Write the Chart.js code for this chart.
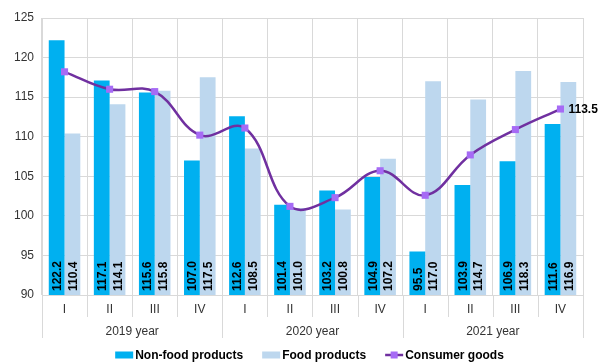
<!DOCTYPE html>
<html>
<head>
<meta charset="utf-8">
<script src="https://cdn.jsdelivr.net/npm/chart.js@4.4.0/dist/chart.umd.min.js"></script>
<style>
  html, body { margin: 0; padding: 0; background: #fff; }
  #wrap { width: 598px; height: 363px; }
</style>
</head>
<body>
<div id="wrap"><canvas id="c"></canvas></div>
<script>
const quarters = ['I', 'II', 'III', 'IV', 'I', 'II', 'III', 'IV', 'I', 'II', 'III', 'IV']
const years = ['2019 year', '2020 year', '2021 year']
const nonFood = [122.2, 117.1, 115.6, 107.0, 112.6, 101.4, 103.2, 104.9, 95.5, 103.9, 106.9, 111.6]
const food = [110.4, 114.1, 115.8, 117.5, 108.5, 101.0, 100.8, 107.2, 117.0, 114.7, 118.3, 116.9]
const consumer = [118.2, 116.0, 115.7, 110.2, 111.1, 101.2, 102.3, 105.7, 102.6, 107.7, 110.9, 113.5]

const GRID = '#d9d9d9'
const TXT = '#333'
const FONT = '"Liberation Sans", Arial, sans-serif'
const LINE = '#7030A0'
const MARK = '#A66BF5'

// numbers inside the bars, rotated, plus last point label
const labelsPlugin = {
  id: 'labels',
  afterDatasetsDraw(chart) {
    const ctx = chart.ctx
    const base = chart.chartArea.bottom
    ctx.save()
    ctx.fillStyle = '#000'
    ctx.font = 'bold 12px ' + FONT
    ;[0, 1].forEach(di => {
      const meta = chart.getDatasetMeta(di)
      const vals = chart.data.datasets[di].data
      meta.data.forEach((bar, i) => {
        ctx.save()
        ctx.translate(bar.x, base - 4)
        ctx.rotate(-Math.PI / 2)
        ctx.textAlign = 'left'
        ctx.textBaseline = 'middle'
        ctx.fillText(vals[i].toFixed(1), 0, 1)
        ctx.restore()
      })
    })
    const lm = chart.getDatasetMeta(2)
    const last = lm.data[lm.data.length - 1]
    ctx.textAlign = 'left'
    ctx.textBaseline = 'middle'
    ctx.fillText(consumer[consumer.length - 1].toFixed(1), last.x + 8, last.y + 1)
    ctx.restore()
  }
}

// two-level category axis (quarters / years) and the legend row
const groupAxis = {
  id: 'groupAxis',
  afterDraw(chart) {
    const ctx = chart.ctx
    const x = chart.scales.x
    const area = chart.chartArea
    const top = area.bottom
    const n = quarters.length
    const step = x.getPixelForValue(1) - x.getPixelForValue(0)
    ctx.save()
    ctx.strokeStyle = GRID
    ctx.lineWidth = 1
    for (let i = 0; i <= n; i++) {
      const px = Math.round(x.getPixelForValue(i) - step / 2) + 0.5
      const len = (i % 4 === 0) ? 43 : 22
      ctx.beginPath()
      ctx.moveTo(px, top)
      ctx.lineTo(px, top + len)
      ctx.stroke()
    }
    ctx.fillStyle = TXT
    ctx.font = '12px ' + FONT
    ctx.textAlign = 'center'
    ctx.textBaseline = 'middle'
    quarters.forEach((q, i) => ctx.fillText(q, x.getPixelForValue(i), top + 15))
    years.forEach((y, k) => {
      const cx = (x.getPixelForValue(k * 4) + x.getPixelForValue(k * 4 + 3)) / 2
      ctx.fillText(y, cx, top + 37)
    })

    // legend
    const items = chart.data.datasets.map(d => d)
    ctx.font = 'bold 12px ' + FONT
    const bw = 18, gapTxt = 2, gapItem = 19
    const widths = items.map(d => bw + gapTxt + ctx.measureText(d.label).width)
    const total = widths.reduce((a, b) => a + b, 0) + gapItem * (items.length - 1)
    let lx = (area.left + area.right) / 2 - total / 2 - 3
    const cy = 355
    items.forEach((d, i) => {
      if (d.type === 'line') {
        ctx.strokeStyle = LINE
        ctx.lineWidth = 2.5
        ctx.beginPath()
        ctx.moveTo(lx, cy)
        ctx.lineTo(lx + bw, cy)
        ctx.stroke()
        ctx.fillStyle = MARK
        ctx.fillRect(lx + bw / 2 - 3.5, cy - 3.5, 7, 7)
      } else {
        ctx.fillStyle = d.backgroundColor
        ctx.fillRect(lx, cy - 3.5, bw, 7)
      }
      ctx.fillStyle = '#000'
      ctx.textAlign = 'left'
      ctx.fillText(d.label, lx + bw + gapTxt, cy + 1)
      lx += widths[i] + gapItem
    })
    ctx.restore()
  }
}

new Chart(document.getElementById('c'), {
  type: 'bar',
  data: {
    labels: quarters,
    datasets: [
      {
        label: 'Non-food products',
        data: nonFood,
        backgroundColor: '#00B0F0',
        categoryPercentage: 0.7,
        barPercentage: 1,
        order: 1,
      },
      {
        label: 'Food products',
        data: food,
        backgroundColor: '#BDD7EE',
        categoryPercentage: 0.7,
        barPercentage: 1,
        order: 1,
      },
      {
        type: 'line',
        label: 'Consumer goods',
        data: consumer,
        borderColor: LINE,
        backgroundColor: MARK,
        borderWidth: 2.5,
        tension: 0.4,
        pointStyle: 'rect',
        pointRadius: 5,
        pointBackgroundColor: MARK,
        pointBorderColor: MARK,
        pointBorderWidth: 0,
        order: 0,
      },
    ],
  },
  options: {
    responsive: true,
    maintainAspectRatio: false,
    animation: false,
    layout: { padding: { left: 0, right: 15, top: 18, bottom: 24 } },
    scales: {
      x: {
        grid: { offset: true, color: GRID, drawTicks: false },
        border: { color: GRID },
        ticks: { display: false },
        afterFit: s => { s.height = 44 },
      },
      y: {
        min: 90, max: 125,
        ticks: { stepSize: 5, color: TXT, font: { size: 12, family: FONT }, padding: 8 },
        grid: { color: GRID, drawTicks: false },
        border: { color: GRID },
        afterFit: s => { s.width = 42 },
      },
    },
    plugins: {
      tooltip: { enabled: false },
      legend: { display: false },
    },
  },
  plugins: [labelsPlugin, groupAxis],
})
</script>
</body>
</html>
